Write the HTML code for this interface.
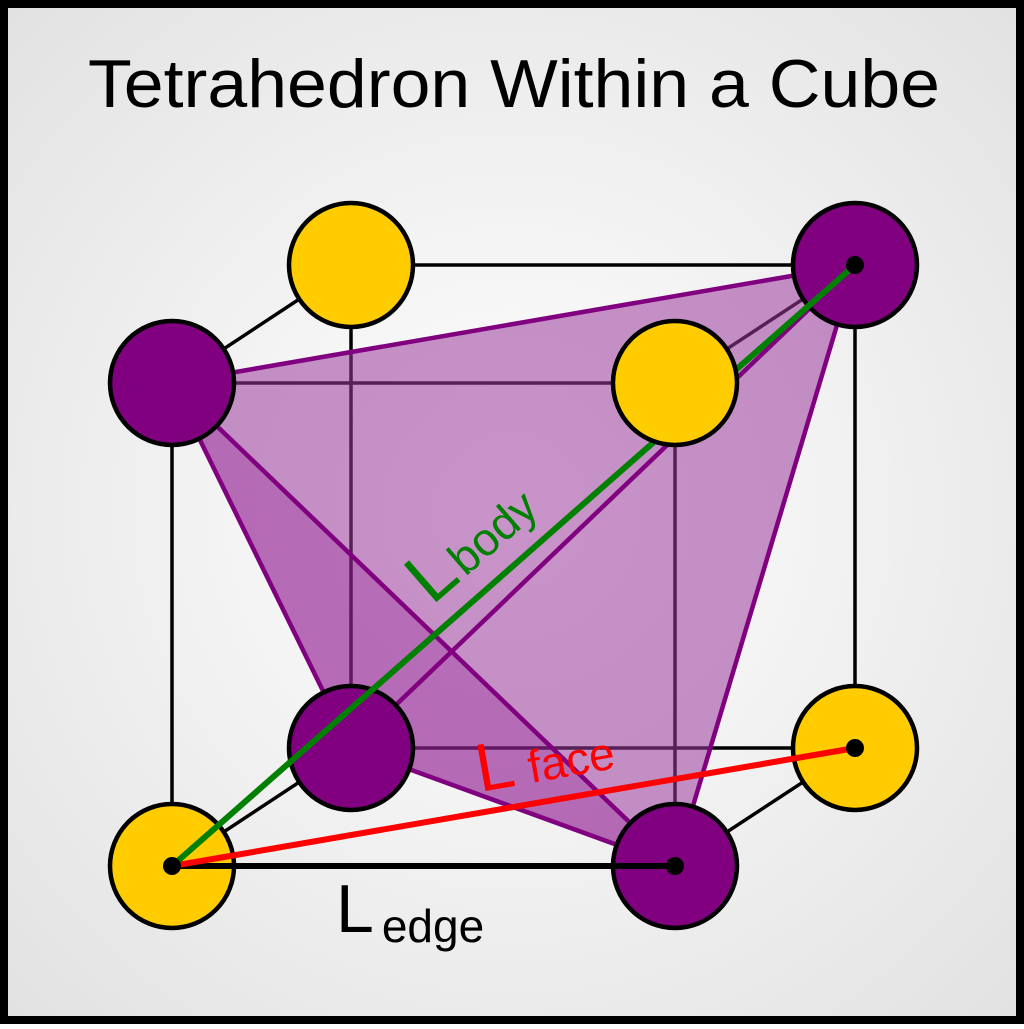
<!DOCTYPE html>
<html><head><style>
html,body{margin:0;padding:0;}
body{width:1024px;height:1024px;overflow:hidden;}
</style></head><body>
<svg width="1024" height="1024" viewBox="0 0 1024 1024" xmlns="http://www.w3.org/2000/svg">
<defs>
<radialGradient id="bg" cx="50%" cy="50%" r="70%">
<stop offset="0" stop-color="#ffffff"/><stop offset="1" stop-color="#e2e2e2"/>
</radialGradient>
</defs>
<rect x="4" y="4" width="1016" height="1016" fill="url(#bg)" stroke="#000" stroke-width="8"/>
<text x="88" y="107" textLength="852" lengthAdjust="spacingAndGlyphs" font-family="Liberation Sans, sans-serif" font-size="68" fill="#000">Tetrahedron Within a Cube</text>
<!-- cube edges -->
<g stroke="#000" stroke-width="3.5" fill="none">
<line x1="351" y1="265" x2="855" y2="265"/>
<line x1="172" y1="383" x2="675" y2="383"/>
<line x1="351" y1="748" x2="855" y2="748"/>
<line x1="351" y1="265" x2="172" y2="383"/>
<line x1="855" y1="265" x2="675" y2="383"/>
<line x1="351" y1="748" x2="172" y2="866"/>
<line x1="855" y1="748" x2="675" y2="866"/>
<line x1="351" y1="265" x2="351" y2="748"/>
<line x1="855" y1="265" x2="855" y2="748"/>
<line x1="172" y1="383" x2="172" y2="866"/>
<line x1="675" y1="383" x2="675" y2="866"/>
</g>
<!-- tetrahedron -->
<polygon points="172,383 855,265 675,866 351,748" fill="#9a3a9a" fill-opacity="0.55"/>
<polygon points="172,383 351,748 675,866" fill="#8a008a" fill-opacity="0.25"/>
<g stroke="#800080" stroke-width="4.5" fill="none">
<polygon points="172,383 855,265 675,866 351,748"/>
<line x1="351" y1="748" x2="855" y2="265"/>
<line x1="172" y1="383" x2="675" y2="866"/>
</g>
<!-- circles -->
<g stroke="#000" stroke-width="4.5">
<circle cx="351" cy="748" r="62" fill="#800080"/>
<circle cx="351" cy="265" r="62" fill="#ffcc00"/>
<circle cx="855" cy="265" r="62" fill="#800080"/>
<circle cx="172" cy="383" r="62" fill="#800080"/>
<circle cx="855" cy="748" r="62" fill="#ffcc00"/>
<circle cx="172" cy="866" r="62" fill="#ffcc00"/>
<circle cx="675" cy="866" r="62" fill="#800080"/>
</g>
<!-- measurement lines -->
<line x1="172" y1="866" x2="675" y2="866" stroke="#000" stroke-width="6"/>
<line x1="172" y1="866" x2="855" y2="748" stroke="#ff0000" stroke-width="6"/>
<line x1="172" y1="866" x2="855" y2="265" stroke="#008000" stroke-width="6"/>
<circle cx="675" cy="383" r="62" fill="#ffcc00" stroke="#000" stroke-width="4.5"/>
<circle cx="172" cy="866" r="9" fill="#000"/>
<circle cx="675" cy="866" r="9" fill="#000"/>
<circle cx="855" cy="748" r="9" fill="#000"/>
<circle cx="855" cy="265" r="9" fill="#000"/>
<!-- labels -->
<text transform="translate(432,606) rotate(-41)" font-family="Liberation Sans, sans-serif" fill="#008000"><tspan font-size="72">L</tspan><tspan font-size="46" dx="4">body</tspan></text>
<text transform="translate(480,792) rotate(-10)" font-family="Liberation Sans, sans-serif" fill="#ff0000"><tspan font-size="68">L</tspan><tspan font-size="46" dx="14">face</tspan></text>
<text x="336" y="932" font-family="Liberation Sans, sans-serif" fill="#000"><tspan font-size="68">L</tspan><tspan font-size="46" dx="8" dy="10">edge</tspan></text>
</svg>
</body></html>
